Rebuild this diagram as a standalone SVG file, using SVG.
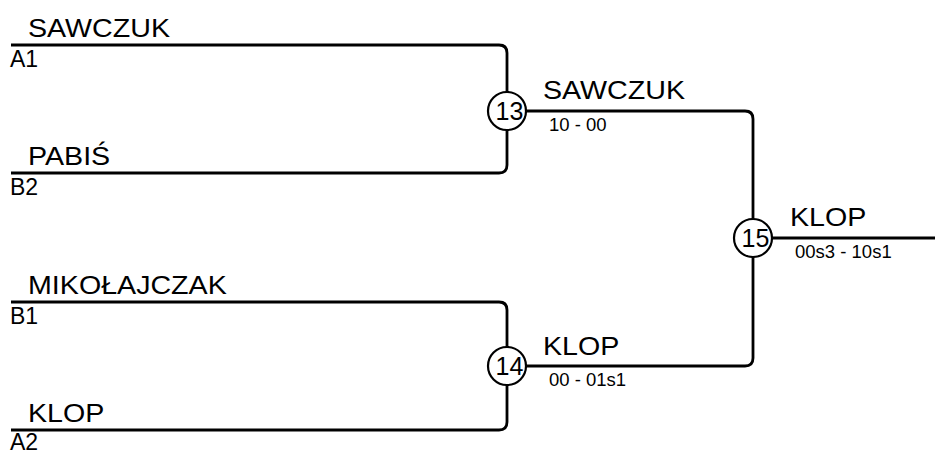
<svg xmlns="http://www.w3.org/2000/svg" width="935" height="455" viewBox="0 0 935 455">
<style>
.ln{fill:none;stroke:#000;stroke-width:2.8}
.nm{font-family:"Liberation Sans",Arial,sans-serif;font-size:26.5px;fill:#000}
.sd{font-family:"Liberation Sans",Arial,sans-serif;font-size:23px;fill:#000}
.sc{font-family:"Liberation Sans",Arial,sans-serif;font-size:18.5px;fill:#000}
.cn{font-family:"Liberation Sans",Arial,sans-serif;font-size:25px;fill:#000;text-anchor:middle}
.cc{fill:#fff;stroke:#000;stroke-width:2.2}
</style>
<rect width="935" height="455" fill="#fff"/>
<g id="connectors">
<path class="ln" d="M11,45 H499 Q507,45 507,53 V165 Q507,173 499,173 H11"/>
<path class="ln" d="M11,302 H499 Q507,302 507,310 V422 Q507,430 499,430 H11"/>
<path class="ln" d="M507,111 H745 Q753,111 753,119 V358 Q753,366 745,366 H507"/>
<path class="ln" d="M753,238 H935"/>
</g>
<g id="p1"><text class="nm" transform="translate(28,37) scale(1.08,1)">SAWCZUK</text><text class="sd" x="10" y="67">A1</text></g>
<g id="p2"><text class="nm" transform="translate(28,165) scale(1.08,1)">PABIŚ</text><text class="sd" x="10" y="195">B2</text></g>
<g id="p3"><text class="nm" transform="translate(28,294) scale(1.08,1)">MIKOŁAJCZAK</text><text class="sd" x="10" y="324">B1</text></g>
<g id="p4"><text class="nm" transform="translate(28,422) scale(1.08,1)">KLOP</text><text class="sd" x="10" y="450">A2</text></g>
<g id="m13"><circle class="cc" cx="507" cy="111" r="19"/><text class="cn" x="509.5" y="120">13</text><text class="nm" transform="translate(543,99) scale(1.08,1)">SAWCZUK</text><text class="sc" x="549" y="131">10 - 00</text></g>
<g id="m14"><circle class="cc" cx="507" cy="366" r="19"/><text class="cn" x="509.5" y="375">14</text><text class="nm" transform="translate(543,355) scale(1.08,1)">KLOP</text><text class="sc" x="549" y="386">00 - 01s1</text></g>
<g id="m15"><circle class="cc" cx="753" cy="238" r="19"/><text class="cn" x="755.5" y="247">15</text><text class="nm" transform="translate(790,226) scale(1.08,1)">KLOP</text><text class="sc" x="795" y="258">00s3 - 10s1</text></g>
</svg>
